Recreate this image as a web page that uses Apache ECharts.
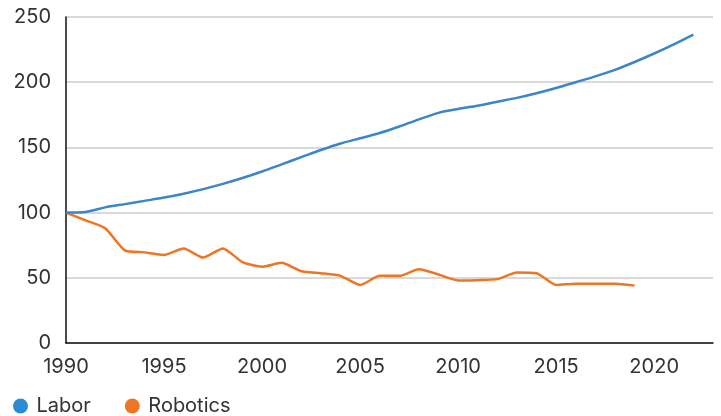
<!DOCTYPE html>
<html>
<head>
<meta charset="utf-8">
<script src="https://cdn.jsdelivr.net/npm/echarts@6/dist/echarts.min.js"></script>
<style>
html,body{margin:0;padding:0;background:#fff;}
#chart{width:721px;height:416px;}
</style>
</head>
<body>
<div id="chart"></div>
<script>
const years = [];
for (let y = 1990; y <= 2023; y++) years.push(String(y));

const labor = [100, 100.5, 104, 106.5, 109, 111.5, 114.5, 118, 122, 126.5,
  131.5, 137, 142.5, 148, 153, 157, 161, 166, 171.5, 176.5,
  179.5, 182, 185, 188, 191.5, 195.5, 200, 204.5, 209.5, 215.5,
  222, 229, 236.5];

const robotics = [100, 94, 88, 71, 69.5, 67.5, 72.5, 65.5, 72.5, 62,
  58.5, 61.5, 55, 53.5, 51.5, 44.5, 51.5, 51.5, 56.5, 52.5,
  48, 48.2, 49, 54, 53.5, 44.5, 45.5, 45.5, 45.5, 44];

const yTicks = [0, 50, 100, 150, 200, 250];

const FONT = 'Inter';
const chart = echarts.init(document.getElementById('chart'));
chart.setOption({
  animation: false,
  backgroundColor: '#ffffff',
  textStyle: { fontFamily: FONT },
  grid: { left: 66, right: 8, top: 17, bottom: 73, containLabel: false },
  legend: {
    left: 8,
    top: 391,
    icon: 'circle',
    itemWidth: 22,
    itemHeight: 15,
    itemGap: 34,
    textStyle: { fontFamily: FONT, fontSize: 20, color: '#333333' },
    data: ['Labor', 'Robotics']
  },
  xAxis: {
    type: 'category',
    data: years,
    boundaryGap: false,
    axisLine: { show: true, lineStyle: { color: '#111111', width: 1.5 } },
    axisTick: { show: false },
    splitLine: { show: false },
    axisLabel: {
      interval: 4,
      margin: 14,
      fontFamily: FONT,
      fontSize: 20,
      color: '#333333'
    }
  },
  yAxis: {
    type: 'value',
    min: yTicks[0],
    max: yTicks[yTicks.length - 1],
    interval: 50,
    axisLine: { show: true, lineStyle: { color: '#111111', width: 1.5 } },
    axisTick: { show: false },
    splitLine: { show: true, lineStyle: { color: '#cccccc', width: 1.5 } },
    axisLabel: {
      margin: 15,
      fontFamily: FONT,
      fontSize: 20,
      color: '#333333'
    }
  },
  series: [
    {
      name: 'Labor',
      type: 'line',
      data: labor,
      smooth: 0.3,
      showSymbol: false,
      symbol: 'circle',
      color: '#2b8bd3',
      lineStyle: { color: '#3a86c8', width: 2.5 },
      z: 3
    },
    {
      name: 'Robotics',
      type: 'line',
      data: robotics,
      smooth: 0.2,
      showSymbol: false,
      symbol: 'circle',
      color: '#ee7623',
      lineStyle: { color: '#ee7623', width: 2.5 },
      z: 2
    }
  ]
});
</script>
</body>
</html>
